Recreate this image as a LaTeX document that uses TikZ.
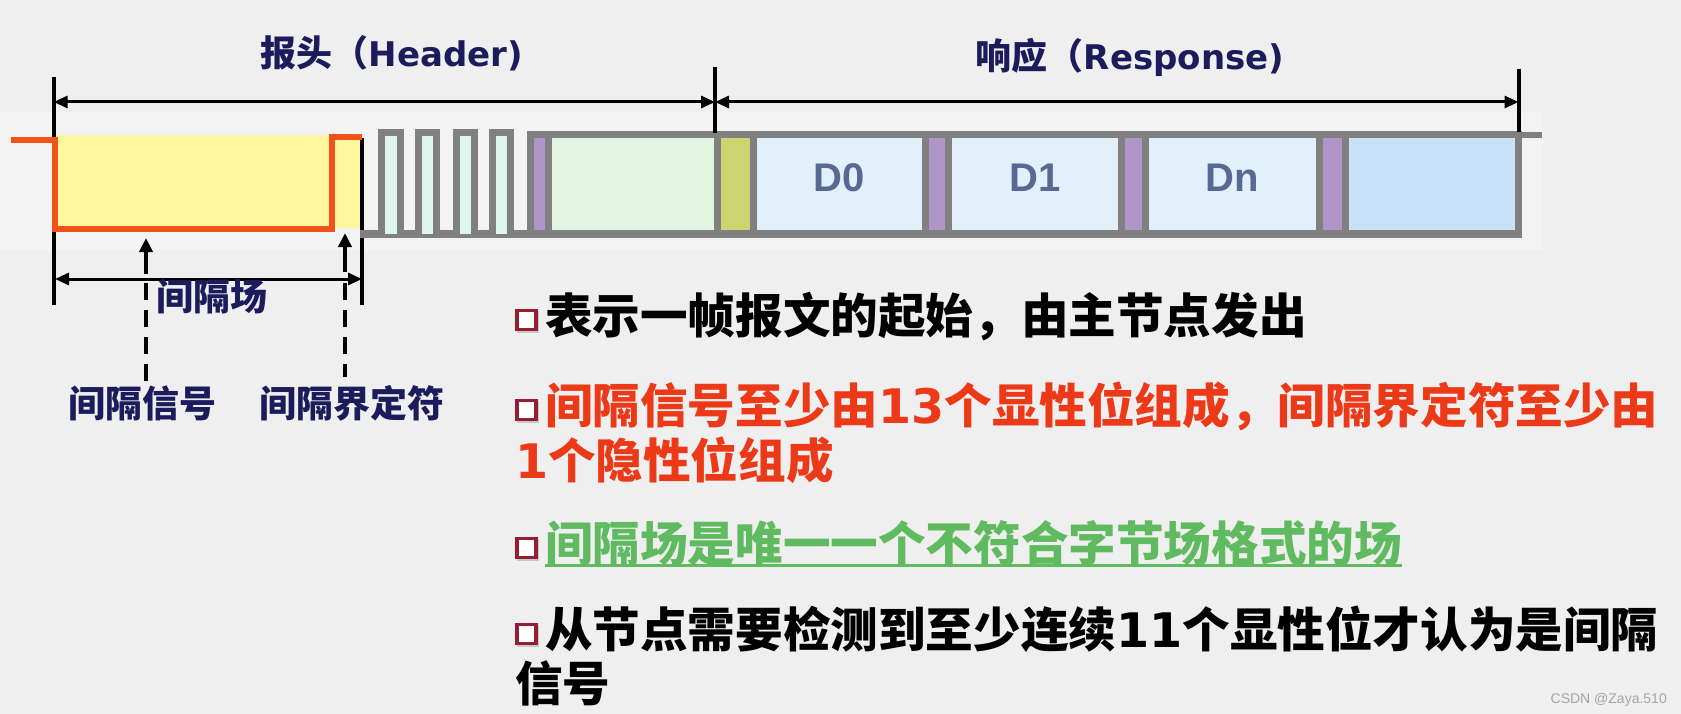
\documentclass[tikz,border=0pt]{standalone}
\usepackage{fontspec}
\usetikzlibrary{arrows.meta}
\newfontfamily\cjk{Noto Sans CJK SC}
\newfontfamily\lat{DejaVu Sans}
\newfontfamily\arl{Liberation Sans}
\newcommand\numb[1]{{\lat\bfseries #1}}
\definecolor{bg}{RGB}{239,239,239}
\definecolor{navy}{RGB}{28,28,92}
\definecolor{framegray}{RGB}{128,128,128}
\definecolor{sigorange}{RGB}{240,82,24}
\definecolor{yellowf}{RGB}{255,246,160}
\definecolor{pulsef}{RGB}{222,245,240}
\definecolor{purplec}{RGB}{176,150,200}
\definecolor{hgreen}{RGB}{226,246,226}
\definecolor{ygreen}{RGB}{204,212,112}
\definecolor{dblue}{RGB}{226,240,252}
\definecolor{lastblue}{RGB}{200,226,250}
\definecolor{dtext}{RGB}{88,104,148}
\definecolor{redt}{RGB}{236,58,24}
\definecolor{greent}{RGB}{96,186,96}
\definecolor{bulletred}{RGB}{150,30,50}
\definecolor{wmgray}{RGB}{165,165,165}
\tikzset{
  frameline/.style={draw=framegray, line width=7pt},
  cell/.style={rectangle, draw=framegray, line width=7pt, inner sep=0pt, outer sep=0pt, minimum height=99pt},
  dim/.style={line width=3pt, {Triangle[length=14pt,width=12pt]}-{Triangle[length=14pt,width=12pt]}},
  tick/.style={line width=4pt},
  uparrow/.style={line width=4pt, -{Triangle[length=14pt,width=13pt]}},
  dashline/.style={line width=4pt, dash pattern=on 17pt off 10pt},
  title/.style={inner sep=0pt, anchor=base, text=navy, font=\cjk\bfseries\fontsize{36}{40}\selectfont},
  navylabel/.style={inner sep=0pt, anchor=base, text=navy, font=\cjk\bfseries\fontsize{37}{40}\selectfont},
  dlabel/.style={inner sep=0pt, anchor=base, text=dtext, font=\arl\bfseries\fontsize{40}{40}\selectfont},
  textline/.style={inner sep=0pt, outer sep=0pt, anchor=base west, font=\cjk\bfseries\fontsize{47.6}{50}\selectfont},
  bullet/.style={rectangle, draw=bulletred, line width=3.8pt, fill=white, minimum size=19pt, inner sep=0pt},
  bshadow/.style={rectangle, fill=black!22, minimum size=22pt, inner sep=0pt}
}
\begin{document}
\begin{tikzpicture}[x=1pt, y=-1pt]
\useasboundingbox (0,0) rectangle (1681,714);
\fill[bg] (0,0) rectangle (1681,714);
\fill[white!25!bg] (0,112) rectangle (1543,250);

% gap field background and signal
\fill[yellowf] (55,135) rectangle (360,228);

% coordinates
\coordinate (ltop) at (53.6,77);
\coordinate (lbot) at (53.6,305);
\coordinate (gtop) at (362,138);
\coordinate (gbot) at (362,305);
\coordinate (mtop) at (715,67);
\coordinate (mbot) at (715,133);
\coordinate (rtop) at (1518.5,69);
\coordinate (rbot) at (1518.5,132);
\coordinate (hl) at (53.6,102);
\coordinate (hr) at (715,102);
\coordinate (rr) at (1518.5,102);
\coordinate (gl) at (55,279);
\coordinate (gr) at (362,279);

\draw[tick] (ltop) -- (lbot);
\draw[tick] (gtop) -- (gbot);

% orange signal
\draw[sigorange, line width=6pt, line join=miter] (11,140) -- (55,140) -- (55,229) -- (332,229) -- (332,137) -- (362,137);

% pulses
\draw[frameline] (360,234) -- (530,234);
\foreach \a/\b in {381.5/400, 418.5/436.5, 456/474, 492.5/510.5}{
  \fill[pulsef] (\a,133) rectangle (\b,234);
  \draw[frameline, line join=miter] (\a,234) -- (\a,133) -- (\b,133) -- (\b,234);
}

% frame cells
\node[cell, fill=purplec, minimum width=18.5pt] (p0) at (539.25,184.5) {};
\node[cell, fill=hgreen, minimum width=169pt] (crc) at (633,184.5) {};
\node[cell, fill=ygreen, minimum width=35.5pt] (yg) at (735.25,184.5) {};
\node[cell, fill=dblue, minimum width=172.5pt] (d0) at (839.25,184.5) {};
\node[cell, fill=purplec, minimum width=23pt] (p1) at (937,184.5) {};
\node[cell, fill=dblue, minimum width=172.5pt] (d1) at (1034.75,184.5) {};
\node[cell, fill=purplec, minimum width=24pt] (p2) at (1133,184.5) {};
\node[cell, fill=dblue, minimum width=174.5pt] (dn) at (1232.25,184.5) {};
\node[cell, fill=purplec, minimum width=25.5pt] (p3) at (1332.25,184.5) {};
\node[cell, fill=lastblue, minimum width=173.5pt] (last) at (1431.75,184.5) {};
\coordinate (ext) at (1542,135);
\draw[framegray, line width=6pt] (last.north east) -- (ext);

\node[dlabel] (t0) at (839.25,192) {D0};
\node[dlabel] (t1) at (1034.75,192) {D1};
\node[dlabel] (tn) at (1232.25,192) {Dn};

% ticks and dimension arrows
\draw[tick] (mtop) -- (mbot);
\draw[tick] (rtop) -- (rbot);
\draw[dim] (hl) -- (hr);
\draw[dim] (hr) -- (rr);
\draw[dim] (gl) -- (gr);

% titles
\node[title] (hdr) at (392,67) {报头（{\lat\fontsize{34}{40}\selectfont Header)}};
\node[title] (rsp) at (1130,70) {响应（{\lat\fontsize{34}{40}\selectfont Response)}};

% up arrows
\coordinate (a1s) at (146,274);
\coordinate (a1t) at (146,238);
\coordinate (a1d) at (146,283);
\coordinate (a1e) at (146,383);
\coordinate (a2s) at (345,272);
\coordinate (a2t) at (345,233);
\coordinate (a2d) at (345,283);
\coordinate (a2e) at (345,377);
\draw[uparrow] (a1s) -- (a1t);
\draw[dashline] (a1d) -- (a1e);
\draw[uparrow] (a2s) -- (a2t);
\draw[dashline] (a2d) -- (a2e);

\node[navylabel] (gap) at (212,310) {间隔场};
\node[navylabel] (sig) at (142,417) {间隔信号};
\node[navylabel] (del) at (352,417) {间隔界定符};

% bullet lines
\foreach \n/\yy in {1/320, 2/410, 4/548, 5/634}{
  \node[bshadow] (s\n) at (528,\yy+1.5) {};
  \node[bullet] (b\n) at (526.5,\yy) {};
}
\node[textline, text=black] (l1) at (545,333) {表示一帧报文的起始，由主节点发出};
\node[textline, text=redt] (l2) at (545,423) {间隔信号至少由\numb{13}个显性位组成，间隔界定符至少由};
\node[textline, text=redt] (l3) at (515,478) {\numb{1}个隐性位组成};
\node[textline, text=greent] (l4) at (545,561) {间隔场是唯一一个不符合字节场格式的场};
\draw[greent, line width=3pt] (l4.south west) -- (l4.south east);
\node[textline, text=black] (l5) at (545,647) {从节点需要检测到至少连续\numb{11}个显性位才认为是间隔};
\node[textline, text=black] (l6) at (515,701) {信号};

\node[inner sep=0pt, anchor=base east, text=wmgray, font=\arl\fontsize{14}{16}\selectfont] (wm) at (1667,703) {CSDN @Zaya.510};
\end{tikzpicture}
\end{document}
